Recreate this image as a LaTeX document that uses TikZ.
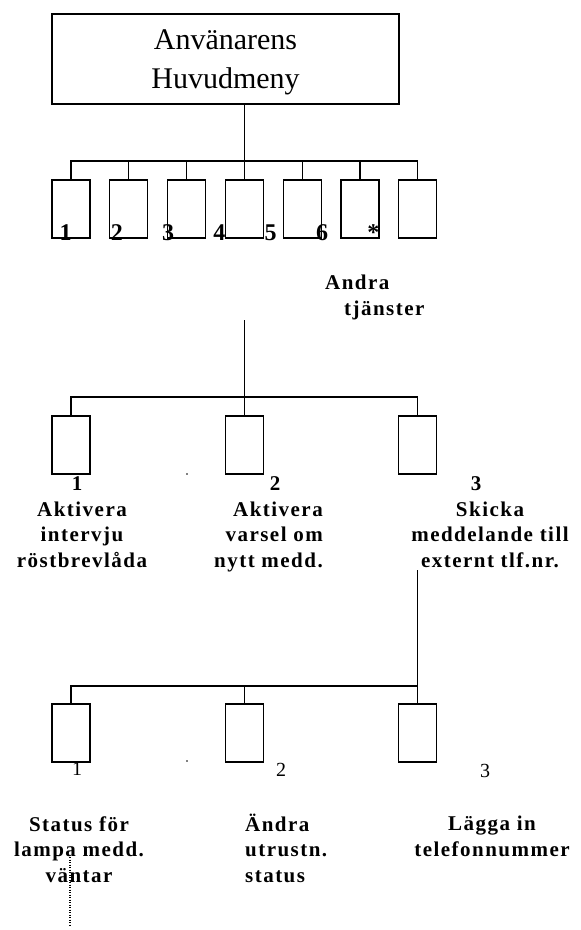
\documentclass[tikz,border=0pt]{standalone}
\usepackage{fontspec}
\setmainfont{Liberation Serif}
\newfontfamily\widebold{Liberation Serif}[LetterSpace=7]
\usepackage{tikz}

\begin{document}
\begin{tikzpicture}[x=1pt,y=-1pt]
\tikzset{key/.style = {shape=rectangle,draw,line width=1.2pt,minimum width=38pt,minimum height=58pt,inner sep=0pt}}
\tikzset{wire/.style = {line width=1.2pt}}
\tikzset{num/.style = {inner sep=0pt,anchor=base,font=\bfseries\fontsize{24}{28}\selectfont}}
\tikzset{subnum/.style = {inner sep=0pt,anchor=base,font=\bfseries\fontsize{21}{24}\selectfont}}
\tikzset{plainnum/.style = {inner sep=0pt,anchor=base,font=\fontsize{20}{24}\selectfont}}
\tikzset{txt/.style = {inner sep=0pt,font=\widebold\bfseries\fontsize{21}{25.5}\selectfont}}
\path[fill=white] (0,0) rectangle (581,930);
% main menu
\node[draw,line width=1.2pt,minimum width=347pt,minimum height=90pt] (menu) at (225.5,59) {};
\node[inner sep=0pt,anchor=base,align=center,font=\fontsize{30}{39}\selectfont]
  (menutext) at (225.5,88) {Använarens\\Huvudmeny};
\foreach \i in {1,...,7}
  \node[key] (b\i) at ({71+57.8*(\i-1)},209) {};
\foreach \i/\t in {1/1,2/2,3/3,4/4,5/5,6/6,7/*}
  \node[num] (d\i) at ({65.5+51.3*(\i-1)},240) {\t};
\node[txt,anchor=base west,align=left] (other) at (325,315) {Andra\\\hspace*{19pt}tjänster};
% services
\node[key] (c1) at (71,445) {};
\node[key] (c2) at (244.4,445) {};
\node[key] (c3) at (417.8,445) {};
\node[subnum] (e1) at (77,490) {1};
\node[subnum] (e2) at (275,490) {2};
\node[subnum] (e3) at (476,490) {3};
\node[txt,anchor=base,align=center] (t1) at (82,567) {Aktivera\\intervju\\röstbrevlåda};
\node[txt,anchor=base east,align=right] (t2) at (323,567) {Aktivera\\varsel om\\nytt medd.};
\node[txt,anchor=base,align=center] (t3) at (490,567) {Skicka\\meddelande till\\externt tlf.nr.};
% settings
\node[key] (f1) at (71,733) {};
\node[key] (f2) at (244.4,733) {};
\node[key] (f3) at (417.8,733) {};
\node[plainnum] (g1) at (77,775) {1};
\node[plainnum] (g2) at (281,776) {2};
\node[plainnum] (g3) at (485,777) {3};
\node[txt,anchor=base,align=center] (u1) at (79,882) {Status för\\lampa medd.\\väntar};
\node[txt,anchor=base west,align=left] (u2) at (245,882) {Ändra\\utrustn.\\status};
\node[txt,anchor=base,align=center] (u3) at (492,856) {Lägga in\\telefonnummer};
\coordinate (hub1) at (244.4,161);
\coordinate (sub) at (244.4,320);
\coordinate (hub2) at (244.4,397);
\coordinate (ext) at (417.8,570);
\coordinate (hub3) at (417.8,686);
\coordinate (more) at (70,857);
\coordinate (moreend) at (70,927);
%edges
\draw[wire] (menu.south -| b4.north) -- (b4.north);
\draw[wire] (b1.north) |- (hub1) -| (b7.north);
\foreach \i in {2,3,5,6}
  \draw[wire] (b\i.north) -- (b\i.north |- hub1);
\draw[wire] (sub) -- (c2.north);
\draw[wire] (c1.north) |- (hub2) -| (c3.north);
\draw[wire] (ext) -- (f3.north);
\draw[wire] (f1.north) |- (hub3);
\draw[wire] (f2.north) -- (f2.north |- hub3);
\draw[line width=1.2pt,dash pattern=on 1pt off 1.5pt] (more) -- (moreend);
\fill (187,474) circle (0.9pt);
\fill (187,761) circle (0.9pt);
\end{tikzpicture}
\end{document}
